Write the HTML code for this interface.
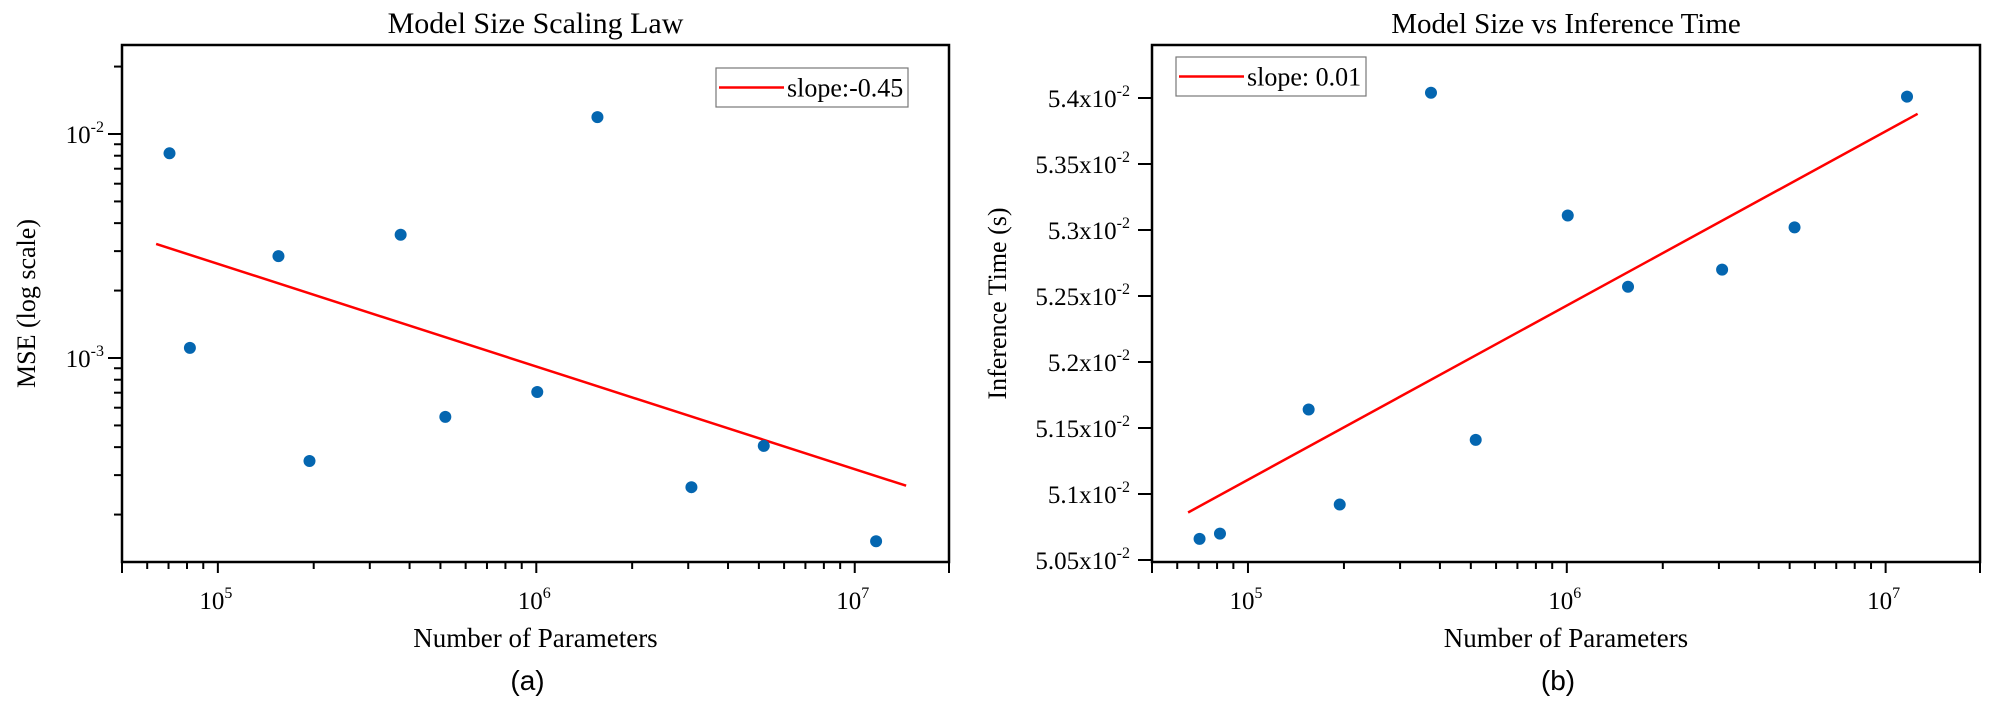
<!DOCTYPE html>
<html><head><meta charset="utf-8"><style>
html,body{margin:0;padding:0;background:#fff;}
svg{display:block;font-family:"Liberation Serif",serif;}
</style></head><body>
<svg id="chart" width="1989" height="711" viewBox="0 0 1989 711" xmlns="http://www.w3.org/2000/svg"></svg>
<script>
// shared x data (number of parameters)
const params = [70500, 81700, 155000, 194000, 375000, 518000, 1007000, 1556000, 3070000, 5180000, 11670000];
// chart (a) values
const mseValues = [8.2e-3, 1.11e-3, 2.85e-3, 3.47e-4, 3.55e-3, 5.46e-4, 7.05e-4, 1.19e-2, 2.65e-4, 4.05e-4, 1.52e-4];
const fitAX = [64000, 14500000];
const fitAY = [3.23e-3, 2.69e-4];
// chart (b) values
const timeValues = [5.066, 5.070, 5.164, 5.092, 5.404, 5.141, 5.311, 5.257, 5.270, 5.302, 5.401];
const fitBX = [64900, 12600000];
const fitBY = [5.086, 5.388];
const xTickExps = [5, 6, 7];
const yTickExpsA = [-2, -3];
const yTicksB = [5.05, 5.10, 5.15, 5.20, 5.25, 5.30, 5.35, 5.40];
const yTickLabelsB = ["5.05", "5.1", "5.15", "5.2", "5.25", "5.3", "5.35", "5.4"];

const NS = "http://www.w3.org/2000/svg";
const svg = document.getElementById('chart');
function el(tag, attrs, parent, text){
  const e = document.createElementNS(NS, tag);
  for (const k in attrs) e.setAttribute(k, attrs[k]);
  if (text !== undefined) e.textContent = text;
  (parent || svg).appendChild(e);
  return e;
}
const L10 = Math.log10;
const TICKFS = 25, SUPFS = 16;

function drawPanel(cfg){
  const g = el('g', {});
  
  
  const {x0, x1, y0, y1} = cfg;
  const xmin = 4.699, xmax = 7.296;
  const sx = v => x0 + (L10(v) - xmin) / (xmax - xmin) * (x1 - x0);
  const sy = cfg.sy;
  const t = el('text', {x: (x0+x1)/2, y: 33, 'text-anchor': 'middle', 'font-size': cfg.titleFs}, g, cfg.title);
  
  
  for (let e = 4; e <= 7; e++){
    for (let m = 1; m <= 9; m++){
      const v = m * Math.pow(10, e);
      const lv = L10(v);
      if (lv < xmin - 1e-6 || lv > xmax + 1e-6) continue;
      const x = sx(v);
      const tk = el('line', {x1: x, x2: x, y1: y1, y2: y1 + (m === 1 ? 11 : 7), stroke: '#000', 'stroke-width': 2}, g);
      
      
    }
  }
  [x0, x1].forEach(x => el('line', {x1: x, x2: x, y1: y1, y2: y1 + 11, stroke: '#000', 'stroke-width': 2}, g));
  xTickExps.forEach(e => {
    const x = sx(Math.pow(10, e));
    const tl = el('text', {x: x - 2, y: 609, 'text-anchor': 'middle', 'font-size': TICKFS}, g);
    
    
    el('tspan', {}, tl, '10');
    el('tspan', {'font-size': SUPFS, dy: -11}, tl, String(e));
  });
  const xl = el('text', {x: (x0+x1)/2, y: 647, 'text-anchor': 'middle', 'font-size': 27}, g, 'Number of Parameters');
  
  
  const cap = el('text', {x: (x0+x1)/2 - 8, y: 690, 'text-anchor': 'middle', 'font-size': 28, 'font-family': '"Liberation Sans", sans-serif'}, g, cfg.caption);
  
  
  cfg.yTicks(g);
  const yl = el('text', {transform: `translate(${cfg.ylx},${(y0+y1)/2}) rotate(-90)`, 'text-anchor': 'middle', 'font-size': 26}, g, cfg.ylabel);
  
  
  const fl = el('line', {x1: sx(cfg.fitX[0]), y1: sy(cfg.fitY[0]), x2: sx(cfg.fitX[1]), y2: sy(cfg.fitY[1]), stroke: '#ff0000', 'stroke-width': 2.5}, g);
  
  
  params.forEach((p, i) => {
    const c = el('circle', {cx: sx(p), cy: sy(cfg.values[i]), r: 6, fill: '#0466b0'}, g);
    
    
  });
  const fr = el('rect', {x: x0, y: y0, width: x1 - x0, height: y1 - y0, fill: 'none', stroke: '#000', 'stroke-width': 2.5}, g);
  
  
  const lg = el('g', {}, g);
  
  
  const b = cfg.legend;
  el('rect', {x: b.x, y: b.y, width: b.w, height: b.h, fill: '#fff', stroke: '#777', 'stroke-width': 1.2}, lg);
  el('line', {x1: b.x + 3, x2: b.x + 68, y1: b.y + b.h/2, y2: b.y + b.h/2, stroke: '#ff0000', 'stroke-width': 2.5}, lg);
  const lt = el('text', {x: b.x + 71, y: b.y + b.h/2 + 9, 'font-size': 26}, lg, b.text);
  
  
}

(function(){
  const y0 = 45, y1 = 562;
  const yA = -2, pA = 134, dec = 224;
  const sy = v => pA - (L10(v) - yA) * dec;
  drawPanel({
    name: 'mse-chart', title: 'Model Size Scaling Law', titleFs: 30, caption: '(a)', ylabel: 'MSE (log scale)', ylx: 35,
    x0: 122, x1: 949, y0, y1, sy, values: mseValues, fitX: fitAX, fitY: fitAY,
    legend: {x: 716, y: 68, w: 192, h: 39, text: 'slope:-0.45'},
    yTicks: g => {
      for (let e = -5; e <= -1; e++){
        for (let m = 1; m <= 9; m++){
          const v = m * Math.pow(10, e);
          const y = sy(v);
          if (y < y0 + 3 || y > y1 - 3) continue;
          const tk = el('line', {x1: 122 - (m === 1 ? 14 : 8), x2: 122, y1: y, y2: y, stroke: '#000', 'stroke-width': 2}, g);
          
          
        }
      }
      yTickExpsA.forEach(e => {
        const tl = el('text', {x: 104, y: sy(Math.pow(10, e)) + 9, 'text-anchor': 'end', 'font-size': TICKFS}, g);
        
        
        el('tspan', {}, tl, '10');
        el('tspan', {'font-size': SUPFS, dy: -11}, tl, String(e));
      });
    }
  });
})();

(function(){
  const y0 = 45, y1 = 562;
  const sy = v => 98 + (5.4 - v) / 0.05 * 66;
  drawPanel({
    name: 'inference-time-chart', title: 'Model Size vs Inference Time', titleFs: 29, caption: '(b)', ylabel: 'Inference Time (s)', ylx: 1006,
    x0: 1152, x1: 1980, y0, y1, sy, values: timeValues, fitX: fitBX, fitY: fitBY,
    legend: {x: 1176, y: 57, w: 190, h: 39, text: 'slope: 0.01'},
    yTicks: g => {
      yTicksB.forEach((v, i) => {
        const y = sy(v);
        const tk = el('line', {x1: 1138, x2: 1152, y1: y, y2: y, stroke: '#000', 'stroke-width': 2}, g);
        
        
        const tl = el('text', {x: 1130, y: y + 9, 'text-anchor': 'end', 'font-size': TICKFS}, g);
        
        
        el('tspan', {}, tl, yTickLabelsB[i] + 'x10');
        el('tspan', {'font-size': SUPFS, dy: -11}, tl, '-2');
      });
    }
  });
})();
</script>
</body></html>
